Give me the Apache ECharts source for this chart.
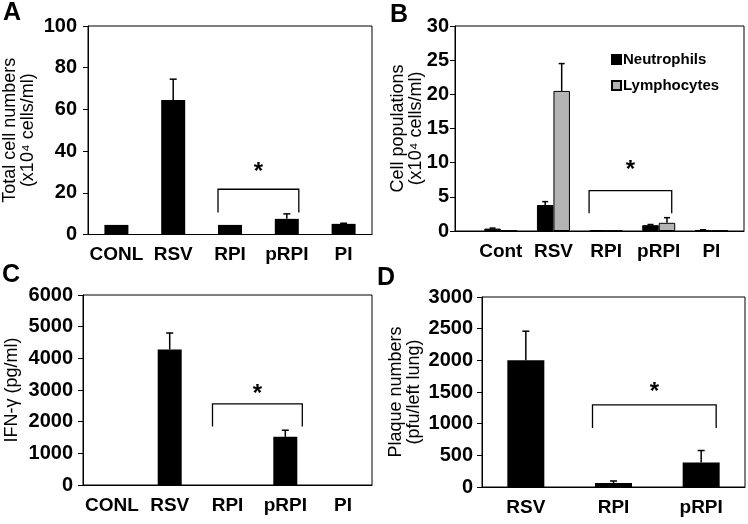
<!DOCTYPE html>
<html>
<head>
<meta charset="utf-8">
<script src="https://cdn.jsdelivr.net/npm/echarts@6/dist/echarts.min.js"></script>
<style>
html,body{margin:0;padding:0;background:#fff;}
#c{width:748px;height:524px;}
</style>
</head>
<body>
<div id="c"></div>
<script>
// ---------- DATA ----------
const catsA = ['CONL', 'RSV', 'RPI', 'pRPI', 'PI'];
const totalCells = [4.6, 64.5, 4.6, 7.5, 5.1];
const totalCellsErr = [0, 10, 0, 2.4, 0.3];
const bracketA = [2, 3, 21.7, 10.6, 31.8]; // from, to, top, leg end, star

const catsB = ['Cont', 'RSV', 'RPI', 'pRPI', 'PI'];
const neutrophils = [0.35, 3.8, 0.1, 0.85, 0.15];
const neutrophilsErr = [0.08, 0.5, 0, 0.1, 0.03];
const lymphocytes = [0.05, 20.5, 0.05, 1.2, 0.05];
const lymphocytesErr = [0, 4, 0, 0.75, 0];
const bracketB = [2, 3, 5.9, 2.6, 9.4];

const catsC = ['CONL', 'RSV', 'RPI', 'pRPI', 'PI'];
const ifng = [0, 4280, 0, 1520, 0];
const ifngErr = [0, 520, 0, 210, 0];
const bracketC = [2, 3, 2560, 1850, 2995];

const catsD = ['RSV', 'RPI', 'pRPI'];
const plaques = [2000, 63, 386];
const plaquesErr = [460, 32, 190];
const bracketD = [1, 2, 1297, 933, 1550];

const ticksA = {min: 0, max: 100, interval: 20};
const ticksB = {min: 0, max: 30, interval: 5};
const ticksC = {min: 0, max: 6000, interval: 1000};
const ticksD = {min: 0, max: 3000, interval: 500};

// ---------- STYLE / HELPERS ----------
const FONT = '"Liberation Sans", Arial, Helvetica, sans-serif';
const chart = echarts.init(document.getElementById('c'), null, {renderer: 'canvas'});

function yAxisOf(gi, t, name, gap, margin) {
  return {
    type: 'value', gridIndex: gi, min: t.min, max: t.max, interval: t.interval,
    axisLine: {show: true, onZero: false, lineStyle: {color: '#000', width: 1}},
    axisTick: {show: true, inside: false, length: 5, lineStyle: {color: '#000'}},
    splitLine: {show: false},
    axisLabel: {color: '#000', fontFamily: FONT, fontWeight: 'bold', fontSize: 20, margin: margin,
      formatter: v => String(v)},
    name: name, nameLocation: 'middle', nameRotate: 90, nameGap: gap, nameMoveOverlap: false,
    nameTextStyle: {color: '#000', fontFamily: FONT, fontSize: 18, lineHeight: 18}
  };
}
function xCatOf(gi, cats) {
  return {
    type: 'category', gridIndex: gi, data: cats,
    axisLine: {show: true, lineStyle: {color: '#000', width: 1}},
    axisTick: {show: false},
    axisLabel: {color: '#000', fontFamily: FONT, fontWeight: 'bold', fontSize: 19, margin: 11, interval: 0}
  };
}
function errSeries(axi, vals, errs, dx, capHalf) {
  return {
    type: 'custom', xAxisIndex: axi, yAxisIndex: axi, z: 5, silent: true,
    data: vals.map((v, i) => [i, v, v + errs[i], errs[i]]),
    renderItem: function (params, api) {
      if (!api.value(3)) return null;
      const p0 = api.coord([api.value(0), api.value(1)]);
      const p1 = api.coord([api.value(0), api.value(2)]);
      const x = p0[0] + dx;
      return {
        type: 'group', children: [
          {type: 'line', shape: {x1: x, y1: p0[1], x2: x, y2: p1[1]}, style: {stroke: '#000', lineWidth: 1.5}},
          {type: 'line', shape: {x1: x - capHalf, y1: p1[1], x2: x + capHalf, y2: p1[1]}, style: {stroke: '#000', lineWidth: 1.5}}
        ]
      };
    }
  };
}
function bracketSeries(axi, b, dl, dr) {
  return {
    type: 'custom', xAxisIndex: axi, yAxisIndex: axi, z: 6, silent: true,
    data: [b],
    renderItem: function (params, api) {
      const a = api.coord([api.value(0), api.value(2)]);
      const c = api.coord([api.value(1), api.value(2)]);
      const legY = api.coord([api.value(0), api.value(3)])[1];
      const starY = api.coord([api.value(0), api.value(4)])[1];
      const xl = a[0] + dl, xr = c[0] + dr;
      return {
        type: 'group', children: [
          {type: 'polyline', shape: {points: [[xl, legY], [xl, a[1]], [xr, c[1]], [xr, legY]]},
           style: {stroke: '#000', lineWidth: 1.3, fill: null}},
          {type: 'text', style: {text: '*', x: (xl + xr) / 2, y: starY + 4, align: 'center', verticalAlign: 'middle',
            font: 'bold 24px ' + FONT, fill: '#000'}}
        ]
      };
    }
  };
}

const gridBase = {show: true, borderColor: '#000', borderWidth: 1, backgroundColor: 'transparent', containLabel: false};

const option = {
  animation: false,
  backgroundColor: '#fff',
  textStyle: {fontFamily: FONT},
  title: [
    {text: 'A', left: 3, top: 1, padding: 0, textStyle: {fontFamily: FONT, fontWeight: 'bold', fontSize: 25, color: '#000'}},
    {text: 'B', left: 390, top: 3, padding: 0, textStyle: {fontFamily: FONT, fontWeight: 'bold', fontSize: 25, color: '#000'}},
    {text: 'C', left: 2, top: 263, padding: 0, textStyle: {fontFamily: FONT, fontWeight: 'bold', fontSize: 25, color: '#000'}},
    {text: 'D', left: 377, top: 266, padding: 0, textStyle: {fontFamily: FONT, fontWeight: 'bold', fontSize: 25, color: '#000'}}
  ],
  legend: {
    data: ['Neutrophils', 'Lymphocytes'], orient: 'vertical', left: 606, top: 47,
    icon: 'rect', itemWidth: 9, itemHeight: 9, itemGap: 11,
    textStyle: {fontFamily: FONT, fontWeight: 'bold', fontSize: 15, color: '#000', padding: [0, 0, 0, -3]}
  },
  grid: [
    Object.assign({left: 82, top: 26, width: 290, height: 208.5}, gridBase),
    Object.assign({left: 455, top: 26, width: 289, height: 205}, gridBase),
    Object.assign({left: 83, top: 295, width: 289, height: 190}, gridBase),
    Object.assign({left: 482, top: 297, width: 263, height: 190}, gridBase)
  ],
  xAxis: [
    xCatOf(0, catsA),
    {
      type: 'value', gridIndex: 1, min: -0.87, max: 4.62,
      axisLine: {show: true, onZero: false, lineStyle: {color: '#000', width: 1}},
      axisTick: {show: false}, splitLine: {show: false},
      axisLabel: {
        color: '#000', fontFamily: FONT, fontWeight: 'bold', fontSize: 19, margin: 11,
        customValues: catsB.map((c, i) => i), formatter: v => catsB[Math.round(v)]
      }
    },
    xCatOf(2, catsC),
    xCatOf(3, catsD)
  ],
  yAxis: [
    yAxisOf(0, ticksA, 'Total cell numbers\n(x10⁴ cells/ml)', 51, 11),
    yAxisOf(1, ticksB, 'Cell populations\n(x10⁴ cells/ml)', 30, 6),
    yAxisOf(2, ticksC, 'IFN-γ (pg/ml)', 62, 10),
    yAxisOf(3, ticksD, 'Plaque numbers\n(pfu/left lung)', 59, 9)
  ],
  series: [
    {type: 'bar', xAxisIndex: 0, yAxisIndex: 0, data: totalCells, barWidth: 24, itemStyle: {color: '#000'}},
    errSeries(0, totalCells, totalCellsErr, 0, 3.5),
    bracketSeries(0, bracketA, -12, 12),

    {name: 'Neutrophils', type: 'bar', xAxisIndex: 1, yAxisIndex: 1, barWidth: 16.5, barGap: '0%',
     data: neutrophils.map((v, i) => [i, v]), itemStyle: {color: '#000', borderColor: '#000', borderWidth: 1}},
    {name: 'Lymphocytes', type: 'bar', xAxisIndex: 1, yAxisIndex: 1, barWidth: 16.5, barGap: '0%',
     data: lymphocytes.map((v, i) => [i, v]), itemStyle: {color: '#b4b4b4', borderColor: '#000', borderWidth: 1}},
    errSeries(1, neutrophils, neutrophilsErr, -8.25, 3),
    errSeries(1, lymphocytes, lymphocytesErr, 8.25, 3),
    bracketSeries(1, bracketB, -17, 13),

    {type: 'bar', xAxisIndex: 2, yAxisIndex: 2, data: ifng, barWidth: 24, itemStyle: {color: '#000'}},
    errSeries(2, ifng, ifngErr, 0, 3.5),
    bracketSeries(2, bracketC, -15, 17),

    {type: 'bar', xAxisIndex: 3, yAxisIndex: 3, data: plaques, barWidth: 37, itemStyle: {color: '#000'}},
    errSeries(3, plaques, plaquesErr, 0, 3.5),
    bracketSeries(3, bracketD, -21, 15)
  ]
};
chart.setOption(option);
</script>
</body>
</html>
